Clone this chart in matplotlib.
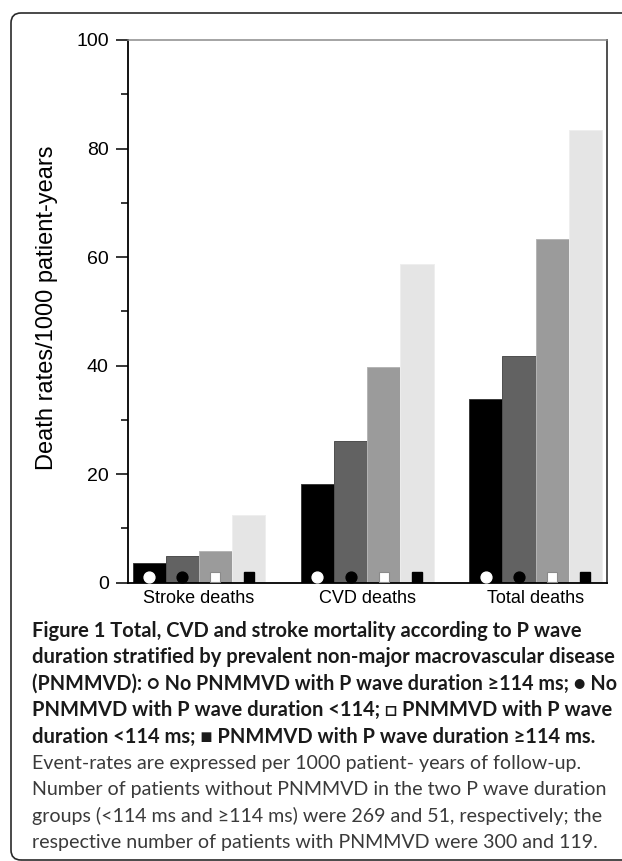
import matplotlib
matplotlib.use("Agg")
import matplotlib.pyplot as plt
import matplotlib.transforms as mtransforms
from matplotlib.patches import FancyBboxPatch
import numpy as np

# ---------------- data ----------------
categories = ["Stroke deaths", "CVD deaths", "Total deaths"]
no_pnmmvd_ge114 = [3.6, 18.2, 33.9]   # white circle, black bar
no_pnmmvd_lt114 = [4.9, 26.2, 41.7]   # black circle, dark grey bar
pnmmvd_lt114 = [5.9, 39.8, 63.3]      # white square, mid grey bar
pnmmvd_ge114 = [12.4, 58.7, 83.4]     # black square, light grey bar
y_ticks = [0, 20, 40, 60, 80, 100]
y_label = "Death rates/1000 patient-years"

caption_bold = [
    "Figure 1 Total, CVD and stroke mortality according to P wave",
    "duration stratified by prevalent non-major macrovascular disease",
    "(PNMMVD): \u25cb No PNMMVD with P wave duration \u2265114 ms; \u25cf No",
    "PNMMVD with P wave duration <114; \u25a1 PNMMVD with P wave",
    "duration <114 ms; \u25a0 PNMMVD with P wave duration \u2265114 ms.",
]
caption_normal = [
    "Event-rates are expressed per 1000 patient- years of follow-up.",
    "Number of patients without PNMMVD in the two P wave duration",
    "groups (<114 ms and \u2265114 ms) were 269 and 51, respectively; the",
    "respective number of patients with PNMMVD were 300 and 119.",
]

# ---------------- figure ----------------
W, H = 622, 861
fig = plt.figure(figsize=(W / 100, H / 100), dpi=100)
fig.patch.set_facecolor("white")

# rounded border box (pixel coordinates)
box = FancyBboxPatch((11, 1), 650, 847, boxstyle="round,pad=0,rounding_size=10",
                     transform=mtransforms.IdentityTransform(), fill=False,
                     edgecolor="#2a2a2a", linewidth=1.2, zorder=0)
fig.patches.append(box)

ax_l, ax_r, ax_t, ax_b = 128.3, 606.7, 40.0, 582.7
ax = fig.add_axes([ax_l / W, 1 - ax_b / H, (ax_r - ax_l) / W, (ax_b - ax_t) / H])

series = [no_pnmmvd_ge114, no_pnmmvd_lt114, pnmmvd_lt114, pnmmvd_ge114]
colors = ["#000000", "#626262", "#9b9b9b", "#e5e5e5"]
edges = ["#3a3a3a", "#4e4e4e", "#b5b5b5", "#eeeeee"]
marker_specs = [
    dict(marker="o", mfc="white", mec="white", ms=7.8),
    dict(marker="o", mfc="black", mec="black", ms=7.8),
    dict(marker="s", mfc="white", mec="#8a8a8a", ms=7.5, mew=0.8),
    dict(marker="s", mfc="black", mec="black", ms=7.8),
]
x = np.arange(len(categories))
bw = 0.197
for i, (vals, c, ec, ms) in enumerate(zip(series, colors, edges, marker_specs)):
    pos = x + (i - 1.5) * bw
    ax.bar(pos, vals, width=bw, color=c, edgecolor=ec, linewidth=0.7, zorder=2)
    ax.plot(pos, [1.0] * len(pos), linestyle="none", zorder=3, **ms)

ax.set_xlim(-0.419, 2.422)
ax.set_ylim(0, 100)
ax.set_yticks(y_ticks)
ax.set_yticks(np.arange(10, 100, 20), minor=True)
ax.set_xticks(x)
ax.set_xticklabels(categories, fontsize=13, family="Liberation Sans")
ax.tick_params(axis="x", length=0, pad=5)
ax.tick_params(axis="y", which="major", length=8.5, width=1.1, pad=5.5, labelsize=14)
ax.tick_params(axis="y", which="minor", length=5, width=1.1)
for lab in ax.get_yticklabels():
    lab.set_family("Liberation Sans")

ax.spines["left"].set_linewidth(1.3)
ax.spines["bottom"].set_linewidth(1.3)
ax.spines["top"].set_color("#8c8c8c")
ax.spines["top"].set_linewidth(1.1)
ax.spines["right"].set_color("#505050")
ax.spines["right"].set_linewidth(1.4)

fig.text(47 / W, 1 - 308 / H, y_label, rotation=90, ha="center", va="center",
         fontsize=17, family="Liberation Sans")

# ---------------- caption ----------------
left = 31.5
base0 = 637.0
step = 26.4
cap_family = ["Lato", "Liberation Sans", "DejaVu Sans"]
bold_texts = []
for k, line in enumerate(caption_bold):
    t = fig.text(left / W, 1 - (base0 + k * step) / H, line, ha="left", va="baseline",
                 fontsize=13.5, fontweight="bold", color="#1a1a1a",
                 family=cap_family)
    bold_texts.append(t)
norm_texts = []
for k, line in enumerate(caption_normal):
    kk = k + len(caption_bold)
    t = fig.text(left / W, 1 - (base0 + kk * step) / H, line, ha="left", va="baseline",
                 fontsize=13.5, color="#3a3a3a",
                 family=cap_family)
    norm_texts.append(t)

# fit caption widths to reference line widths
fig.canvas.draw()
r = fig.canvas.get_renderer()
sb = 582.0 / bold_texts[1].get_window_extent(r).width
sn = 577.0 / norm_texts[1].get_window_extent(r).width
for t in bold_texts:
    t.set_fontsize(t.get_fontsize() * sb)
for t in norm_texts:
    t.set_fontsize(t.get_fontsize() * sn)

# guard: keep every caption line inside the box
fig.canvas.draw()
max_right = 614.0
for t in bold_texts + norm_texts:
    bb = t.get_window_extent(r)
    if bb.x1 > max_right:
        t.set_fontsize(t.get_fontsize() * (max_right - left) / (bb.x1 - left))

fig.savefig("out.png", dpi=100, facecolor="white")
